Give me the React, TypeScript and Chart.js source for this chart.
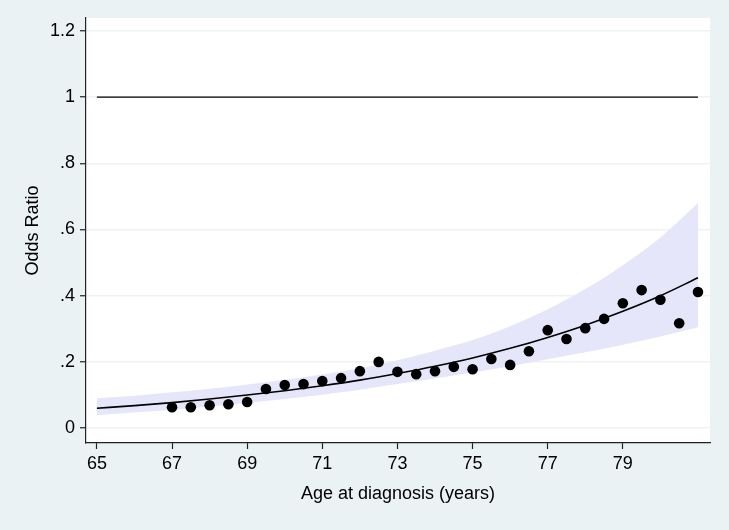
import React, { useEffect, useRef } from "react";
import { Chart, registerables } from "chart.js";

Chart.register(...registerables);

// Fitted odds ratio curve and 95% CI band
const fitAges = [65, 66, 67, 68, 69, 70, 71, 72, 73, 74, 75, 76, 77, 78, 79, 80, 81];
const fitOR = [0.06, 0.068, 0.077, 0.088, 0.1, 0.113, 0.128, 0.145, 0.165, 0.187, 0.212, 0.241, 0.274, 0.311, 0.353, 0.4, 0.454];
const upperCI = [0.09, 0.098, 0.108, 0.119, 0.132, 0.146, 0.162, 0.181, 0.205, 0.234, 0.266, 0.308, 0.359, 0.42, 0.492, 0.576, 0.68];
const lowerCI = [0.039, 0.047, 0.055, 0.065, 0.076, 0.088, 0.101, 0.116, 0.133, 0.15, 0.168, 0.187, 0.208, 0.229, 0.252, 0.277, 0.305];

// Observed odds ratios
const pointAges = [67, 67.5, 68, 68.5, 69, 69.5, 70, 70.5, 71, 71.5, 72, 72.5, 73, 73.5, 74, 74.5, 75, 75.5, 76, 76.5, 77, 77.5, 78, 78.5, 79, 79.5, 80, 80.5, 81];
const pointOR = [0.063, 0.063, 0.069, 0.072, 0.079, 0.118, 0.13, 0.133, 0.142, 0.151, 0.172, 0.2, 0.17, 0.163, 0.172, 0.185, 0.178, 0.209, 0.191, 0.232, 0.296, 0.269, 0.302, 0.33, 0.377, 0.417, 0.388, 0.317, 0.411];

// Reference line
const refAges = [65, 81];
const refOR = [1, 1];

// Axis ticks
const xTickValues = [65, 67, 69, 71, 73, 75, 77, 79];
const xTickLabels = ["65", "67", "69", "71", "73", "75", "77", "79"];
const yTickValues = [0, 0.2, 0.4, 0.6, 0.8, 1, 1.2];
const yTickLabels = ["0", ".2", ".4", ".6", ".8", "1", "1.2"];

const xTitle = "Age at diagnosis (years)";
const yTitle = "Odds Ratio";

const BG = "#eaf2f3";
const BAND = "#e6e6fa";
const FONT = "'Liberation Sans', Arial, Helvetica, sans-serif";

const toXY = (xs: number[], ys: number[]) => xs.map((x, i) => ({ x, y: ys[i] }));

const bgPlugin = {
  id: "bgPlugin",
  beforeDraw(chart: any) {
    const { ctx, chartArea } = chart;
    ctx.save();
    ctx.fillStyle = BG;
    ctx.fillRect(0, 0, chart.width, chart.height);
    ctx.fillStyle = "#ffffff";
    ctx.fillRect(chartArea.left, chartArea.top, chartArea.right - chartArea.left, chartArea.bottom - chartArea.top);
    ctx.restore();
  },
};

export default function App() {
  const ref = useRef<HTMLCanvasElement | null>(null);

  useEffect(() => {
    document.body.style.margin = "0";
    if (!ref.current) return;
    const chart = new Chart(ref.current, {
      type: "line",
      data: {
        datasets: [
          {
            label: "points",
            data: toXY(pointAges, pointOR),
            showLine: false,
            pointRadius: 5.3,
            pointBackgroundColor: "#000",
            pointBorderWidth: 0,
            borderColor: "#000",
          },
          {
            label: "fit",
            data: toXY(fitAges, fitOR),
            borderColor: "#000",
            borderWidth: 1.6,
            pointRadius: 0,
            cubicInterpolationMode: "monotone",
            fill: false,
          },
          {
            label: "ref",
            data: toXY(refAges, refOR),
            borderColor: "#000",
            borderWidth: 1.4,
            pointRadius: 0,
            fill: false,
          },
          {
            label: "upper",
            data: toXY(fitAges, upperCI),
            borderWidth: 0,
            borderColor: "rgba(0,0,0,0)",
            backgroundColor: BAND,
            pointRadius: 0,
            cubicInterpolationMode: "monotone",
            fill: "+1",
          },
          {
            label: "lower",
            data: toXY(fitAges, lowerCI),
            borderWidth: 0,
            borderColor: "rgba(0,0,0,0)",
            pointRadius: 0,
            cubicInterpolationMode: "monotone",
            fill: false,
          },
        ],
      },
      options: {
        animation: false,
        responsive: false,
        layout: { padding: { left: 0, top: 18, right: 19, bottom: 0 } },
        plugins: { legend: { display: false }, tooltip: { enabled: false } },
        scales: {
          x: {
            type: "linear",
            min: 64.71,
            max: 81.32,
            afterBuildTicks: (s: any) => {
              s.ticks = xTickValues.map((v) => ({ value: v }));
            },
            afterFit: (s: any) => {
              s.height = 87;
            },
            ticks: {
              autoSkip: false,
              maxRotation: 0,
              padding: 4,
              color: "#000",
              font: { family: FONT, size: 18 },
              callback: (v: any) => {
                const i = xTickValues.indexOf(Number(v));
                return i >= 0 ? xTickLabels[i] : "";
              },
            },
            grid: {
              drawOnChartArea: false,
              drawTicks: true,
              tickLength: 6,
              tickColor: "#222",
              tickWidth: 1.2,
            },
            border: { color: "#222", width: 1.2 },
            title: {
              display: true,
              text: xTitle,
              color: "#000",
              font: { family: FONT, size: 18 },
              padding: { top: 0, bottom: 25 },
            },
          },
          y: {
            type: "linear",
            min: -0.045,
            max: 1.239,
            afterBuildTicks: (s: any) => {
              s.ticks = yTickValues.map((v) => ({ value: v }));
            },
            afterFit: (s: any) => {
              s.width = 86;
            },
            ticks: {
              autoSkip: false,
              padding: 5,
              color: "#000",
              font: { family: FONT, size: 18 },
              callback: (v: any) => {
                const i = yTickValues.findIndex((t) => Math.abs(t - Number(v)) < 1e-9);
                return i >= 0 ? yTickLabels[i] : "";
              },
            },
            grid: {
              color: "#edf2f3",
              lineWidth: 1.5,
              drawTicks: true,
              tickLength: 6,
              tickColor: "#222",
              tickWidth: 1.2,
            },
            border: { color: "#222", width: 1.2 },
            title: {
              display: true,
              text: yTitle,
              color: "#000",
              font: { family: FONT, size: 18 },
              padding: { top: 22, bottom: 0 },
            },
          },
        },
      },
      plugins: [bgPlugin],
    } as any);
    return () => chart.destroy();
  }, []);

  return (
    <div style={{ width: 729, height: 530 }}>
      <canvas ref={ref} width={729} height={530} style={{ display: "block" }} />
    </div>
  );
}
